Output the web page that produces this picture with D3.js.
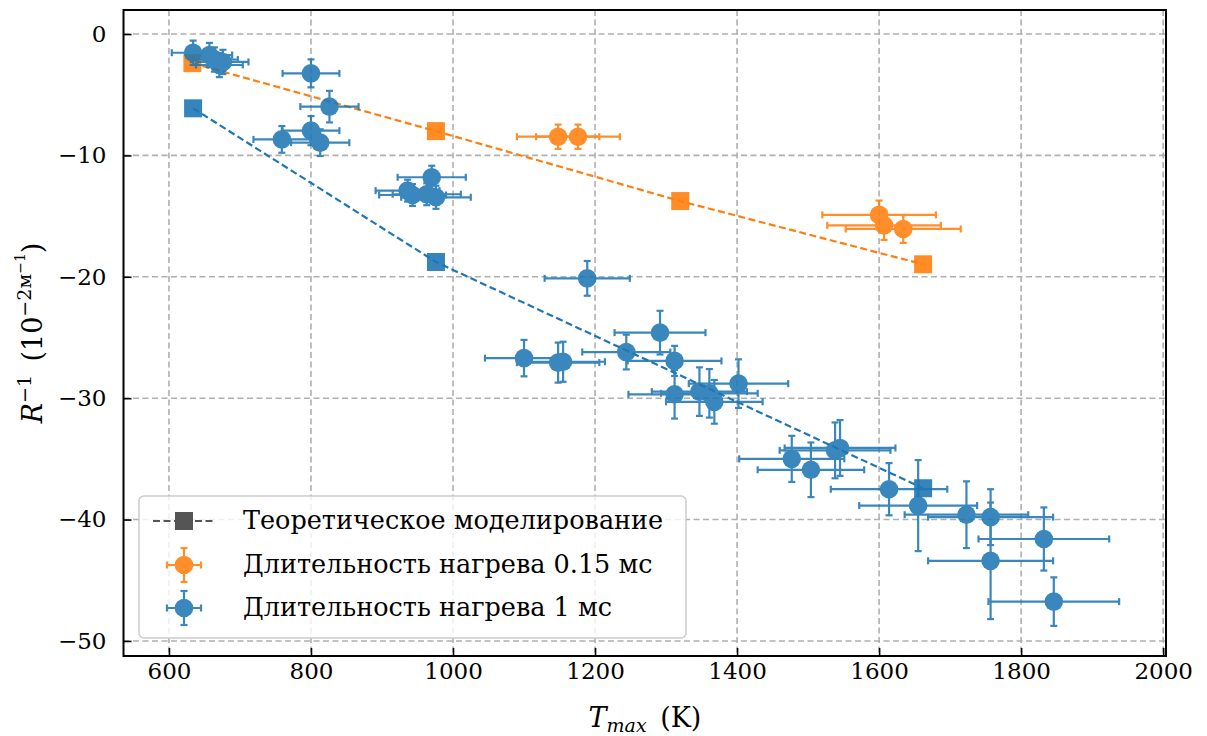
<!DOCTYPE html>
<html>
<head>
<meta charset="utf-8">
<script src="https://cdn.jsdelivr.net/npm/d3@7"></script>
<style>
  html, body { margin: 0; padding: 0; background: #fff; }
</style>
</head>
<body>
<svg id="chart" width="1207" height="736"></svg>
<script>
// Theoretical model: T_max (K) and R^-1 (10^-2 m^-1)
const theoryOrangeT = [633, 976, 1320, 1662];
const theoryOrangeR = [-2.4, -8.0, -13.76, -18.97];
const theoryBlueT = [634, 976, 1662];
const theoryBlueR = [-6.12, -18.78, -37.42];

// Heating duration 0.15 ms
const orangeT    = [1148, 1176, 1600, 1607, 1634];
const orangeR    = [-8.46, -8.46, -14.9, -15.76, -16.06];
const orangeTerr = [58, 59, 80, 80, 81];
const orangeRerr = [1.0, 1.0, 1.18, 1.2, 1.15];

// Heating duration 1 ms
const blueT = [634, 657, 664, 671, 676, 800, 826, 800, 759, 813,
               970, 936, 943, 963, 976, 1189, 1291.5, 1244, 1100, 1148,
               1155, 1312, 1312, 1347, 1361, 1368, 1402, 1477, 1504, 1538,
               1545, 1614, 1655, 1723, 1757, 1832, 1757, 1846];
const blueR = [-1.54, -1.73, -2.1, -2.55, -2.3, -3.24, -5.98, -7.96, -8.68, -8.95,
               -11.8, -12.9, -13.26, -13.2, -13.45, -20.13, -24.6, -26.2, -26.7, -27.07,
               -27.0, -26.93, -29.68, -29.46, -29.6, -30.3, -28.8, -35.0, -35.9, -34.3,
               -34.1, -37.5, -38.85, -39.6, -39.8, -41.6, -43.4, -46.76];
const blueTerr = [30, 32, 33, 33, 36, 40, 41, 40, 40, 41,
                  48, 45, 47, 48, 49, 60, 64, 62, 55, 58,
                  59, 66, 65, 67, 68, 68, 70, 74, 75, 78,
                  78, 82, 83, 87, 88, 92, 88, 92];
const blueRerr = [1.0, 1.0, 1.0, 1.0, 1.0, 1.15, 1.3, 1.2, 1.1, 1.1,
                  0.95, 0.9, 0.9, 0.9, 0.95, 1.43, 1.8, 1.43, 1.5, 1.65,
                  1.65, 1.24, 2.0, 2.0, 2.0, 1.8, 2.0, 1.9, 2.25, 2.3,
                  2.3, 2.15, 3.75, 2.75, 2.3, 2.6, 4.8, 2.0];

const xTicks = [600, 800, 1000, 1200, 1400, 1600, 1800, 2000];
const yTicks = [0, -10, -20, -30, -40, -50];

const legendLabels = ["Теоретическое моделирование",
                      "Длительность нагрева 0.15 мс",
                      "Длительность нагрева 1 мс"];

const BLUE = "#1f77b4", ORANGE = "#ff7f0e", GREY = "#555555";
const SERIF = "DejaVu Serif";

const svg = d3.select("#chart");
const plot = {left: 123.5, top: 10, right: 1166, bottom: 656};

const x = d3.scaleLinear().domain([536, 2004]).range([plot.left, plot.right]);
const y = d3.scaleLinear().domain([1.98, -51.24]).range([plot.top, plot.bottom]);

// grid
const grid = svg.append("g");
grid.selectAll("line.gx").data(xTicks.filter(t => x(t) < plot.right - 1)).enter().append("line")
  .attr("x1", d => x(d)).attr("x2", d => x(d)).attr("y1", plot.top).attr("y2", plot.bottom)
  .attr("stroke", "#b0b0b0").attr("stroke-width", 1.6).attr("stroke-dasharray", "6,3.5");
grid.selectAll("line.gy").data(yTicks).enter().append("line")
  .attr("y1", d => y(d)).attr("y2", d => y(d)).attr("x1", plot.left).attr("x2", plot.right)
  .attr("stroke", "#b0b0b0").attr("stroke-width", 1.6).attr("stroke-dasharray", "6,3.5");

// theory lines
function theory(ts, rs, color) {
  const pts = ts.map((t, i) => [t, rs[i]]);
  const g = svg.append("g");
  g.append("path").datum(pts)
    .attr("d", d3.line().x(d => x(d[0])).y(d => y(d[1])))
    .attr("fill", "none").attr("stroke", color).attr("stroke-width", 2.2)
    .attr("stroke-dasharray", "7,3.5");
  g.selectAll("rect").data(pts).enter().append("rect")
    .attr("x", d => x(d[0]) - 9).attr("y", d => y(d[1]) - 9)
    .attr("width", 18).attr("height", 18)
    .attr("fill", color).attr("fill-opacity", 0.9);
}
theory(theoryOrangeT, theoryOrangeR, ORANGE);
theory(theoryBlueT, theoryBlueR, BLUE);

// error bars with circle markers
function errorSeries(ts, rs, te, re, color) {
  const pts = ts.map((t, i) => ({t, r: rs[i], te: te[i], re: re[i]}));
  const g = svg.append("g").attr("opacity", 0.88);
  const cap = 3.5;
  pts.forEach(p => {
    const cx = x(p.t), cy = y(p.r);
    const x0 = x(p.t - p.te), x1 = x(p.t + p.te);
    const y0 = y(p.r + p.re), y1 = y(p.r - p.re);
    const e = g.append("g").attr("stroke", color).attr("stroke-width", 2.2);
    e.append("line").attr("x1", x0).attr("x2", x1).attr("y1", cy).attr("y2", cy);
    e.append("line").attr("x1", cx).attr("x2", cx).attr("y1", y0).attr("y2", y1);
    [x0, x1].forEach(v => e.append("line").attr("x1", v).attr("x2", v).attr("y1", cy - cap).attr("y2", cy + cap));
    [y0, y1].forEach(v => e.append("line").attr("y1", v).attr("y2", v).attr("x1", cx - cap).attr("x2", cx + cap));
    g.append("circle").attr("cx", cx).attr("cy", cy).attr("r", 9.3).attr("fill", color);
  });
}
errorSeries(orangeT, orangeR, orangeTerr, orangeRerr, ORANGE);
errorSeries(blueT, blueR, blueTerr, blueRerr, BLUE);

// axes frame and ticks
svg.append("rect").attr("x", plot.left).attr("y", plot.top)
  .attr("width", plot.right - plot.left).attr("height", plot.bottom - plot.top)
  .attr("fill", "none").attr("stroke", "#000").attr("stroke-width", 2);

const xAxis = svg.append("g").attr("transform", `translate(0,${plot.bottom})`)
  .call(d3.axisBottom(x).tickValues(xTicks).tickSizeInner(-8).tickSizeOuter(0).tickPadding(7).tickFormat(d3.format("d")));
const yAxis = svg.append("g").attr("transform", `translate(${plot.left},0)`)
  .call(d3.axisLeft(y).tickValues(yTicks).tickSizeInner(-8).tickSizeOuter(0).tickPadding(17)
    .tickFormat(d => d < 0 ? "\u2212" + Math.abs(d) : String(d)));
[xAxis, yAxis].forEach(a => {
  a.attr("font-family", SERIF).attr("font-size", 23);
  a.select(".domain").remove();
  a.selectAll(".tick line").attr("stroke", "#000").attr("stroke-width", 1.6);
  a.selectAll(".tick text").attr("fill", "#000");
});

// axis titles
const xt = svg.append("text").attr("x", 645).attr("y", 727).attr("text-anchor", "middle")
  .attr("font-family", SERIF).attr("font-size", 27);
xt.append("tspan").attr("font-style", "italic").text("T");
xt.append("tspan").attr("font-style", "italic").attr("font-size", 19).attr("dy", 5).text("max");
xt.append("tspan").attr("dy", -5).text("\u2002(K)");

const yt = svg.append("text").attr("transform", "translate(42,333) rotate(-90)")
  .attr("text-anchor", "middle").attr("font-family", SERIF).attr("font-size", 27);
yt.append("tspan").attr("font-style", "italic").text("R");
yt.append("tspan").attr("font-size", 19).attr("dy", -11).text("\u22121");
yt.append("tspan").attr("dy", 11).text("\u2002(10");
yt.append("tspan").attr("font-size", 19).attr("dy", -11).text("\u22122м");
yt.append("tspan").attr("font-size", 14).attr("dy", -6).text("\u22121");
yt.append("tspan").attr("dy", 17).text(")");

// legend
const lg = svg.append("g");
lg.append("rect").attr("x", 139).attr("y", 496).attr("width", 547).attr("height", 142).attr("rx", 5)
  .attr("fill", "#fff").attr("fill-opacity", 0.8).attr("stroke", "#cccccc").attr("stroke-width", 1.5);
const rowsY = [521, 565, 608];
lg.append("line").attr("x1", 153).attr("x2", 215).attr("y1", rowsY[0]).attr("y2", rowsY[0])
  .attr("stroke", GREY).attr("stroke-width", 2.2).attr("stroke-dasharray", "7,3.5");
lg.append("rect").attr("x", 175).attr("y", rowsY[0] - 9).attr("width", 18).attr("height", 18).attr("fill", GREY);
[[ORANGE, rowsY[1]], [BLUE, rowsY[2]]].forEach(([c, cy]) => {
  const cx = 184, g = lg.append("g").attr("opacity", 0.88);
  const e = g.append("g").attr("stroke", c).attr("stroke-width", 2.2);
  e.append("line").attr("x1", cx - 17).attr("x2", cx + 17).attr("y1", cy).attr("y2", cy);
  e.append("line").attr("x1", cx).attr("x2", cx).attr("y1", cy - 17).attr("y2", cy + 17);
  [cx - 17, cx + 17].forEach(v => e.append("line").attr("x1", v).attr("x2", v).attr("y1", cy - 3.5).attr("y2", cy + 3.5));
  [cy - 17, cy + 17].forEach(v => e.append("line").attr("y1", v).attr("y2", v).attr("x1", cx - 3.5).attr("x2", cx + 3.5));
  g.append("circle").attr("cx", cx).attr("cy", cy).attr("r", 9.3).attr("fill", c);
});
lg.selectAll("text.lbl").data(legendLabels).enter().append("text")
  .attr("x", 243).attr("y", (d, i) => rowsY[i] + 8)
  .attr("font-family", SERIF).attr("font-size", 25.5).attr("fill", "#000").text(d => d);
</script>
</body>
</html>
